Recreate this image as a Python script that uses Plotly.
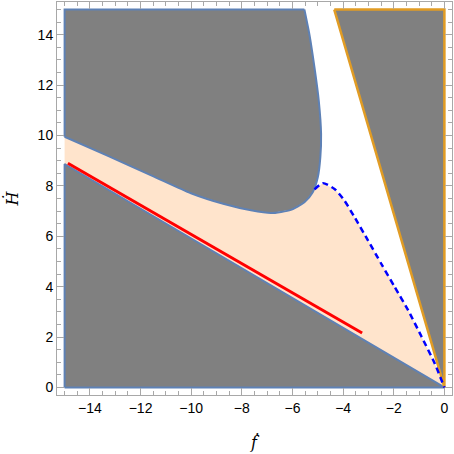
import plotly.graph_objects as go

# ---- data ----
# lower boundary line (blue) of the bottom-left grey region
lower_x = [-15.0, 0.0]
lower_y = [8.87, 0.0]

# upper grey region boundary curve (left edge -> top)
upper_x = [-15.0, -13.31, -11.47, -10.01, -8.70, -7.64, -6.85, -6.06, -5.53, -5.20,
           -5.00, -4.90, -4.87, -4.96, -5.13, -5.33, -5.53]
upper_y = [9.95, 9.20, 8.37, 7.71, 7.28, 7.03, 6.92, 7.05, 7.35, 7.75,
           8.34, 9.13, 10.06, 11.37, 12.69, 14.00, 15.00]

# dashed blue curve
dash_x = [-5.13, -4.80, -4.34, -3.95, -3.55, -3.02, -2.50, -1.97, -1.44, -0.91, -0.39, 0.0]
dash_y = [7.86, 8.11, 7.88, 7.42, 6.76, 5.84, 4.92, 4.00, 3.08, 2.03, 0.97, 0.0]

# red line
red_x = [-14.87, -3.25]
red_y = [8.90, 2.16]

# orange triangle
orange_x = [-4.35, 0.0, 0.0]
orange_y = [15.0, 15.0, 0.0]

x_ticks = [-14, -12, -10, -8, -6, -4, -2, 0]
y_ticks = [0, 2, 4, 6, 8, 10, 12, 14]

GREY = "rgb(128,128,128)"
BLUE = "#5E81B5"
ORANGE = "#E19C24"
PEACH = "#FFE4CC"
SPL = dict(shape="spline", smoothing=0.6)

fig = go.Figure()

def poly(xs, ys, color):
    fig.add_trace(go.Scatter(x=xs, y=ys, fill="toself", fillcolor=color, mode="lines",
                             line=dict(width=0, color=color), hoverinfo="skip"))

def line(xs, ys, color, width, spline=False, dash=None):
    ld = dict(color=color, width=width)
    if spline:
        ld.update(SPL)
    if dash:
        ld["dash"] = dash
    fig.add_trace(go.Scatter(x=xs, y=ys, mode="lines", line=ld, hoverinfo="skip"))

# peach region: lower line, left edge, upper curve (up to junction), dashed curve
n_up = 10
poly([lower_x[0]] + upper_x[:n_up] + dash_x + [lower_x[0]],
     [lower_y[0]] + upper_y[:n_up] + dash_y + [lower_y[0]], PEACH)

# bottom-left grey region (straight edges)
bl_x = [-15.0] + lower_x + [-15.0]
bl_y = [0.0] + lower_y + [0.0]
fig.add_trace(go.Scatter(x=bl_x, y=bl_y, fill="toself", fillcolor=GREY, mode="lines",
                         line=dict(color=BLUE, width=2), hoverinfo="skip"))

# upper-left grey region: fill, then the curved edge, then the straight edges
poly(upper_x + [-15.0, -15.0], upper_y + [15.0, upper_y[0]], GREY)
line(upper_x, upper_y, BLUE, 2, spline=True)
line([upper_x[-1], -15.0, -15.0], [15.0, 15.0, upper_y[0]], BLUE, 2)

# orange triangle
fig.add_trace(go.Scatter(x=orange_x + [orange_x[0]], y=orange_y + [orange_y[0]],
                         fill="toself", fillcolor=GREY, mode="lines",
                         line=dict(color=ORANGE, width=2.5), hoverinfo="skip"))

# red line
line(red_x, red_y, "#FF0000", 3)

# dashed blue curve
line(dash_x, dash_y, "#0000FF", 2.5, spline=True, dash="6px,4px")

axis_common = dict(
    showgrid=False, zeroline=False, showline=True, linecolor="#a8a8a8", linewidth=1,
    mirror="allticks", ticks="inside", ticklen=7, tickcolor="#a8a8a8", tickwidth=1,
    automargin=False,
    tickfont=dict(family="Liberation Sans, Arial, sans-serif", size=14, color="#000000"),
    minor=dict(dtick=0.5, ticks="inside", ticklen=4, tickcolor="#a8a8a8", tickwidth=1),
)

fig.update_xaxes(range=[-15.3, 0.3], tickvals=x_ticks,
                 ticktext=["\u2212" + str(abs(v)) if v < 0 else str(v) for v in x_ticks],
                 **axis_common)
fig.update_xaxes(minor=dict(tick0=-15))
fig.update_yaxes(range=[-0.3, 15.3], tickvals=y_ticks, **axis_common)

fig.update_layout(
    width=454, height=454,
    margin=dict(l=57, r=2, t=2, b=59),
    plot_bgcolor="white", paper_bgcolor="white",
    showlegend=False,
    annotations=[
        dict(text="<i>ḟ</i>", x=0.5, y=-0.12, xref="paper", yref="paper",
             showarrow=False, font=dict(family="DejaVu Serif, serif", size=16, color="#000"),
             xanchor="center", yanchor="middle"),
        dict(text="<i>Ḣ</i>", x=-0.114, y=0.5, xref="paper", yref="paper",
             showarrow=False, textangle=-90,
             font=dict(family="DejaVu Serif, serif", size=16, color="#000"),
             xanchor="center", yanchor="middle"),
    ],
)

fig.write_html("out.html", config={"displayModeBar": False},
               post_script="document.body.style.margin='0px';")
